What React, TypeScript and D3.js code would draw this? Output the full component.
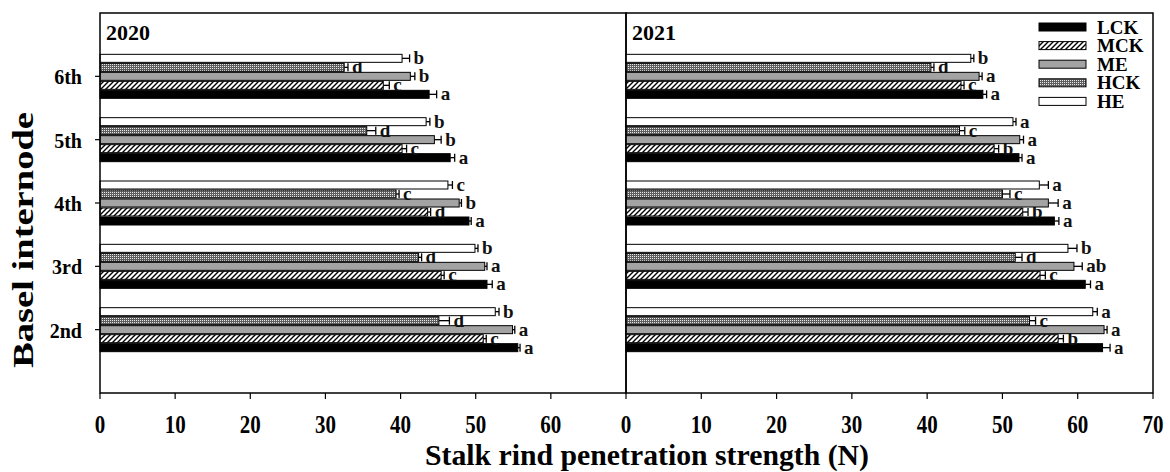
import React from "react";
import * as d3 from "d3";

const categories = ["2nd", "3rd", "4th", "5th", "6th"];
const series = ["LCK", "MCK", "ME", "HCK", "HE"];
const xTicksLeft = [0, 10, 20, 30, 40, 50, 60];
const xTicksRight = [0, 10, 20, 30, 40, 50, 60, 70];

// 2020 (values by category 2nd..6th)
const v2020_LCK = [55.6, 51.5, 49.1, 46.6, 43.8];
const v2020_MCK = [51.0, 45.4, 43.6, 40.2, 37.7];
const v2020_ME = [54.9, 51.2, 47.8, 44.5, 41.3];
const v2020_HCK = [45.1, 42.4, 39.4, 35.5, 32.5];
const v2020_HE = [52.6, 49.9, 46.3, 43.4, 40.2];
const e2020_LCK = [0.3, 0.7, 0.3, 0.6, 1.0];
const e2020_MCK = [0.4, 0.4, 0.4, 0.6, 0.8];
const e2020_ME = [0.3, 0.3, 0.3, 0.9, 0.6];
const e2020_HCK = [1.4, 0.4, 0.4, 1.2, 0.5];
const e2020_HE = [0.5, 0.4, 0.6, 0.5, 1.0];
const l2020_LCK = ["a", "a", "a", "a", "a"];
const l2020_MCK = ["c", "c", "d", "c", "c"];
const l2020_ME = ["a", "a", "b", "b", "b"];
const l2020_HCK = ["d", "d", "c", "d", "d"];
const l2020_HE = ["b", "b", "c", "b", "b"];

// 2021
const v2021_LCK = [63.3, 61.0, 56.9, 52.2, 47.4];
const v2021_MCK = [57.4, 55.0, 52.7, 48.9, 44.5];
const v2021_ME = [63.5, 59.5, 56.1, 52.3, 46.9];
const v2021_HCK = [53.6, 51.7, 50.0, 44.3, 40.5];
const v2021_HE = [62.0, 58.7, 54.9, 51.4, 45.8];
const e2021_LCK = [1.0, 0.7, 0.6, 0.4, 0.5];
const e2021_MCK = [0.7, 0.7, 0.7, 0.6, 0.4];
const e2021_ME = [0.4, 1.1, 1.3, 0.5, 0.4];
const e2021_HCK = [0.8, 0.9, 1.0, 0.7, 0.4];
const e2021_HE = [0.6, 1.2, 1.2, 0.4, 0.4];
const l2021_LCK = ["a", "a", "a", "a", "a"];
const l2021_MCK = ["b", "c", "b", "b", "c"];
const l2021_ME = ["a", "ab", "a", "a", "a"];
const l2021_HCK = ["c", "d", "c", "c", "d"];
const l2021_HE = ["a", "b", "a", "a", "b"];

const panels = [
  {
    title: "2020",
    range: [100, 626],
    ticks: xTicksLeft,
    values: { LCK: v2020_LCK, MCK: v2020_MCK, ME: v2020_ME, HCK: v2020_HCK, HE: v2020_HE },
    errors: { LCK: e2020_LCK, MCK: e2020_MCK, ME: e2020_ME, HCK: e2020_HCK, HE: e2020_HE },
    letters: { LCK: l2020_LCK, MCK: l2020_MCK, ME: l2020_ME, HCK: l2020_HCK, HE: l2020_HE },
  },
  {
    title: "2021",
    range: [626, 1153],
    ticks: xTicksRight,
    values: { LCK: v2021_LCK, MCK: v2021_MCK, ME: v2021_ME, HCK: v2021_HCK, HE: v2021_HE },
    errors: { LCK: e2021_LCK, MCK: e2021_MCK, ME: e2021_ME, HCK: e2021_HCK, HE: e2021_HE },
    letters: { LCK: l2021_LCK, MCK: l2021_MCK, ME: l2021_ME, HCK: l2021_HCK, HE: l2021_HE },
  },
];

const FONT = "'Liberation Serif', 'Times New Roman', serif";
const fills: Record<string, string> = {
  LCK: "#000000",
  MCK: "url(#hatch)",
  ME: "#a3a3a3",
  HCK: "url(#dots)",
  HE: "#ffffff",
};

export default function App() {
  const W = 1170;
  const H = 472;
  const top = 13;
  const bottom = 393;
  const y = d3.scaleLinear().domain([0, 6]).range([bottom, top]);
  const groupH = 45;

  return (
    <svg width={W} height={H} style={{ display: "block", position: "absolute", left: 0, top: 0 }} fontFamily={FONT} fontWeight="bold">
      <defs>
        <pattern id="hatch" patternUnits="userSpaceOnUse" width="5" height="5">
          <rect width="5" height="5" fill="#fff" />
          <path d="M0,5 L5,0 M-1,1 L1,-1 M4,6 L6,4" stroke="#000" strokeWidth="1.4" />
        </pattern>
        <pattern id="dots" patternUnits="userSpaceOnUse" width="2" height="2">
          <rect width="2" height="2" fill="#5e5e5e" />
          <rect width="1" height="1" fill="#e8e8e8" />
        </pattern>
      </defs>
      <rect x={0} y={0} width={W} height={H} fill="#fff" />
      {panels.map((p, pi) => {
        const x = d3.scaleLinear().domain([0, 70]).range(p.range);
        return (
          <g key={p.title}>
            {categories.map((c, ci) => {
              const yc = y(ci + 1);
              const band = d3
                .scaleBand()
                .domain(["HE", "HCK", "ME", "MCK", "LCK"])
                .range([yc - groupH / 2, yc + groupH / 2]);
              return (
                <g key={c}>
                  {series.map((s) => {
                    const v = (p.values as any)[s][ci];
                    const e = (p.errors as any)[s][ci];
                    const lt = (p.letters as any)[s][ci];
                    const by = band(s)!;
                    const bh = band.bandwidth();
                    const cy = by + bh / 2;
                    const x0 = x(0);
                    const xv = x(v);
                    const xe = x(v + e);
                    return (
                      <g key={s}>
                        <rect x={x0} y={by + 0.5} width={xv - x0} height={bh - 1} fill={fills[s]} stroke="#000" strokeWidth={1} />
                        <line x1={xv} x2={xe} y1={cy} y2={cy} stroke="#000" strokeWidth={1.3} />
                        <line x1={xe} x2={xe} y1={cy - 4} y2={cy + 4} stroke="#000" strokeWidth={1.3} />
                        <text x={xe + 4} y={cy + 6} fontSize={19} fill="#111">
                          {lt}
                        </text>
                      </g>
                    );
                  })}
                </g>
              );
            })}
            <rect x={p.range[0]} y={top} width={p.range[1] - p.range[0]} height={bottom - top} fill="none" stroke="#000" strokeWidth={1.5} />
            <text x={p.range[0] + 6} y={40} fontSize={22}>
              {p.title}
            </text>
            {p.ticks.map((t) => (
              <g key={t}>
                <line x1={x(t)} x2={x(t)} y1={bottom} y2={bottom + 6} stroke="#000" strokeWidth={1.2} />
                <text transform={`translate(${x(t)},433) scale(1,1.17)`} textAnchor="middle" fontSize={21}>
                  {t}
                </text>
              </g>
            ))}
          </g>
        );
      })}
      {categories.map((c, ci) => (
        <g key={c}>
          <line x1={95} x2={100} y1={y(ci + 1)} y2={y(ci + 1)} stroke="#000" strokeWidth={1.2} />
          <text x={82} y={y(ci + 1) + 8} textAnchor="end" fontSize={20}>
            {c}
          </text>
        </g>
      ))}
      <text transform="translate(33,240) rotate(-90)" textAnchor="middle" fontSize={29} textLength={256} lengthAdjust="spacingAndGlyphs">
        Basel internode
      </text>
      <text x={647} y={465} textAnchor="middle" fontSize={29} textLength={444} lengthAdjust="spacingAndGlyphs">
        Stalk rind penetration strength (N)
      </text>
      {series.map((s, i) => {
        const ly = 27 + i * 18.6;
        return (
          <g key={s}>
            <rect x={1039} y={ly - 4} width={47} height={8} fill={fills[s]} stroke="#000" strokeWidth={1} />
            <text x={1097} y={ly + 6.5} fontSize={19}>
              {s}
            </text>
          </g>
        );
      })}
    </svg>
  );
}
